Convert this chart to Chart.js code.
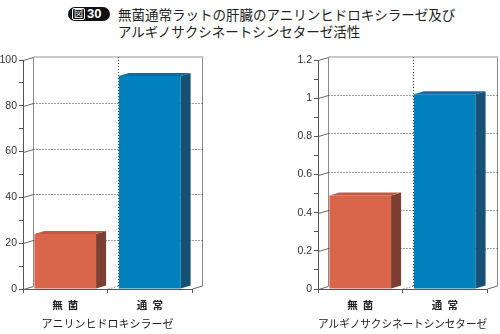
<!DOCTYPE html>
<html>
<head>
<meta charset="utf-8">
<script src="https://cdn.jsdelivr.net/npm/chart.js@4.4.0/dist/chart.umd.min.js"></script>
<style>
  body { margin: 0; background: #fff; width: 500px; height: 334px; position: relative; overflow: hidden; font-family: "Noto Sans CJK JP", sans-serif; }
  .badge { position: absolute; left: 68px; top: 7px; width: 42px; height: 14px; background: #111; border-radius: 7px; color: #fff; }
  .badge .zu { position: absolute; left: 4px; top: 1px; width: 11px; height: 10px; border: 1px solid #fff; border-radius: 2px; font-size: 9px; line-height: 10px; text-align: center; }
  .badge .num { position: absolute; left: 19px; top: -1px; font: bold 13px "Liberation Sans", Arial, sans-serif; line-height: 16px; }
  .title { position: absolute; left: 118px; top: 6px; font-size: 13.5px; line-height: 16.5px; color: #222; white-space: nowrap; }
  .chart { position: absolute; top: 0; width: 250px; height: 334px; }
</style>
</head>
<body>
<div class="badge"><span class="zu">図</span><span class="num">30</span></div>
<div class="title">無菌通常ラットの肝臓のアニリンヒドロキシラーゼ及び<br>アルギノサクシネートシンセターゼ活性</div>
<div class="chart" style="left:0"><canvas id="chartA" width="250" height="334"></canvas></div>
<div class="chart" style="left:250px"><canvas id="chartB" width="250" height="334"></canvas></div>

<script>
// ── Data ──
const categories = ['無\u2002菌', '通\u2002常'];
const anilineValues = [24, 93];
const arginosuccinateValues = [0.49, 1.02];
const anilineTitle = 'アニリンヒドロキシラーゼ';
const arginosuccinateTitle = 'アルギノサクシネートシンセターゼ';

// ── Styles ──
const frontColors = ['#d9654b', '#0080bd'];
const sideColors  = ['#7c3f31', '#145174'];
const topColors   = ['#c45a43', '#0a6ea3'];
const DX = 10, DY = -3;   // depth of the fake 3D box

function line(ctx, x1, y1, x2, y2) {
  ctx.beginPath(); ctx.moveTo(x1, y1); ctx.lineTo(x2, y2); ctx.stroke();
}

const box3d = {
  id: 'box3d',
  beforeDatasetsDraw(chart) {
    const { ctx, chartArea: a, scales: { x, y } } = chart;
    const L = a.left + 0.5, R = a.right + 0.5, T = a.top, B = a.bottom;
    ctx.save();
    // back wall frame
    ctx.strokeStyle = '#8a8a8a'; ctx.lineWidth = 1;
    line(ctx, L + DX, T + DY, L + DX, B + DY);
    line(ctx, R + DX, T + DY, R + DX, B + DY);
    ctx.strokeStyle = '#c9c9c9'; ctx.lineWidth = 2;
    line(ctx, L + DX, T + DY, R + DX + 1, T + DY);

    // gridlines on back wall + diagonals from front axis
    y.ticks.forEach(t => {
      if (t.label === '') return;
      const py = Math.round(y.getPixelForValue(t.value)) + 0.5;
      ctx.setLineDash([]); ctx.strokeStyle = '#666'; ctx.lineWidth = 1;
      line(ctx, L, py, L + DX, py + DY);
      if (t.value > y.min && t.value < y.max) {
        ctx.setLineDash([1, 2]); ctx.strokeStyle = '#444';
        line(ctx, L + DX, py + DY, R + DX, py + DY);
      }
    });

    // category boundary on back wall and floor
    for (let i = 0; i < categories.length - 1; i++) {
      const bx = Math.round((x.getPixelForValue(i) + x.getPixelForValue(i + 1)) / 2) + 0.5;
      ctx.setLineDash([1, 2]); ctx.strokeStyle = '#444';
      line(ctx, bx + DX, T + DY, bx + DX, B + DY);
      line(ctx, bx, B, bx + DX, B + DY);
    }
    ctx.setLineDash([]); ctx.strokeStyle = '#666';
    line(ctx, R, B, R + DX, B + DY);
    ctx.restore();
  },
  afterDatasetsDraw(chart) {
    const { ctx } = chart;
    const meta = chart.getDatasetMeta(0);
    ctx.save();
    meta.data.forEach((bar, i) => {
      const { x, y, base, width } = bar.getProps(['x', 'y', 'base', 'width'], true);
      const l = x - width / 2, r = x + width / 2;
      // side face
      ctx.fillStyle = sideColors[i];
      ctx.beginPath();
      ctx.moveTo(r, y); ctx.lineTo(r + DX, y + DY); ctx.lineTo(r + DX, base + DY); ctx.lineTo(r, base);
      ctx.closePath(); ctx.fill();
      // top face
      ctx.fillStyle = topColors[i];
      ctx.beginPath();
      ctx.moveTo(l, y); ctx.lineTo(l + DX, y + DY); ctx.lineTo(r + DX, y + DY); ctx.lineTo(r, y);
      ctx.closePath(); ctx.fill();
    });
    ctx.restore();
  }
};

function makeChart(id, values, axisTitle, max, step, padLeft, padRight) {
  return new Chart(document.getElementById(id), {
    type: 'bar',
    data: {
      labels: categories,
      datasets: [{
        data: values,
        backgroundColor: frontColors,
        borderWidth: 0,
        barPercentage: 0.73,
        categoryPercentage: 1
      }]
    },
    options: {
      responsive: false,
      animation: false,
      devicePixelRatio: 1,
      layout: { padding: { left: padLeft, right: padRight, top: 60, bottom: 0 } },
      plugins: { legend: { display: false }, tooltip: { enabled: false } },
      scales: {
        x: {
          offset: true,
          grid: { drawOnChartArea: false, tickLength: 4, color: '#555', offset: true },
          border: { color: '#555' },
          ticks: { color: '#222', padding: 6, font: { family: '"Noto Sans CJK JP"', size: 10.5, weight: 'bold' } },
          title: { display: true, text: axisTitle, color: '#222', padding: { top: 0, bottom: 4 },
                   font: { family: '"Noto Sans CJK JP"', size: 11 } },
          afterFit(scale) { scale.height = 45; }
        },
        y: {
          min: 0, max: max,
          grid: { drawOnChartArea: false, tickLength: 4, color: '#555' },
          border: { color: '#555' },
          ticks: {
            stepSize: step, autoSkip: false, padding: 2, color: '#333',
            font: { family: '"Liberation Sans", Arial, sans-serif', size: 10.5 },
            callback: v => {
              const r = Math.round(v / step);
              return r % 2 === 0 ? String(+v.toFixed(1)) : '';
            }
          },
          afterFit(scale) { scale.width = 23; }
        }
      }
    },
    plugins: [box3d]
  });
}

makeChart('chartA', anilineValues, anilineTitle, 100, 10, 0, 58);
makeChart('chartB', arginosuccinateValues, arginosuccinateTitle, 1.2, 0.1, 45, 13);
</script>
</body>
</html>
